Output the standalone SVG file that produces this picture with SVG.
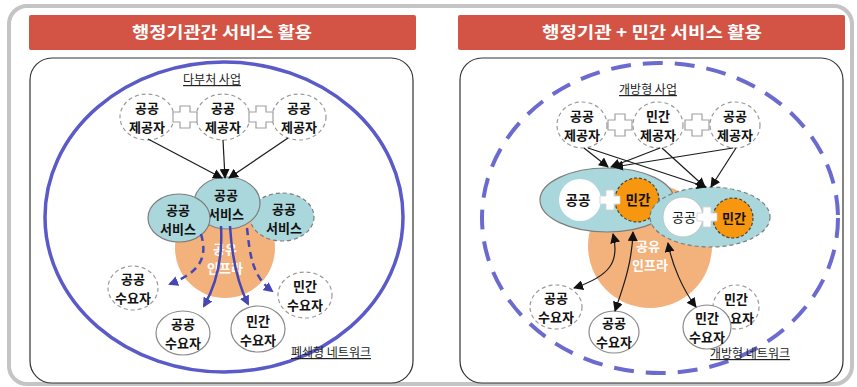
<svg xmlns="http://www.w3.org/2000/svg" width="857" height="387" viewBox="0 0 857 387">
<style>
text{font-family:"Noto Sans CJK KR","Noto Sans",sans-serif;}
.title{fill:#fff;font-size:16px;font-weight:bold;text-anchor:middle;}
.nt{font-size:13px;font-weight:bold;fill:#111;text-anchor:middle;}
.wt{font-size:13px;font-weight:bold;fill:#fff;text-anchor:middle;}
.lbl{font-size:12px;fill:#222;text-anchor:middle;text-decoration:underline;}
.dashc{fill:#fff;stroke:#9a9a9a;stroke-width:1.2;stroke-dasharray:4 3;}
.solc{fill:#fff;stroke:#8a8a8a;stroke-width:1.2;}
.svc{fill:#aad7db;stroke:#7d7d7d;stroke-width:1.2;}
.svcd{fill:#aad7db;stroke:#7d7d7d;stroke-width:1.2;stroke-dasharray:4 3;}
.infra{fill:#f3b27c;}
.plus{fill:#fff;stroke:#a0a0a0;stroke-width:1.2;}
.bk{fill:none;stroke:#1a1a1a;stroke-width:1.2;}
.bl{fill:none;stroke:#4646b4;stroke-width:2.5;}
.bld{fill:none;stroke:#4646b4;stroke-width:2.5;stroke-dasharray:7 5;}
.org{fill:#f7960f;stroke:#444;stroke-width:1.2;stroke-dasharray:3 2;}
</style>
<defs>
<marker id="ab" viewBox="0 0 10 10" refX="9" refY="5" markerWidth="10" markerHeight="10" markerUnits="userSpaceOnUse" orient="auto-start-reverse"><path d="M0,0 L10,5 L0,10 z" fill="#111"/></marker>
<marker id="abl" viewBox="0 0 10 10" refX="8" refY="5" markerWidth="10" markerHeight="10" markerUnits="userSpaceOnUse" orient="auto"><path d="M0,0 L10,5 L0,10 z" fill="#4646b4"/></marker>
<path id="plusShape" d="M-5,-11 H5 V-5 H12 V5 H5 V11 H-5 V5 H-12 V-5 H-5 Z"/>
<path id="plusSmall" d="M-4,-10 H4 V-4 H10 V4 H4 V10 H-4 V4 H-10 V-4 H-4 Z"/>
</defs>

<!-- outer frame -->
<rect x="9" y="6" width="843" height="378" rx="18" fill="#fff" stroke="#c4c4c4" stroke-width="4"/>

<!-- title bars -->
<g id="title-left">
<rect x="29" y="15" width="387" height="35" rx="2" fill="#d35445"/>
<text class="title" x="222" y="38" textLength="180" lengthAdjust="spacingAndGlyphs">행정기관간 서비스 활용</text>
</g>
<g id="title-right">
<rect x="458" y="15" width="387" height="35" rx="2" fill="#d35445"/>
<text class="title" x="652" y="38" textLength="220" lengthAdjust="spacingAndGlyphs">행정기관 + 민간 서비스 활용</text>
</g>

<!-- panels -->
<rect x="30" y="58" width="383" height="325" rx="22" fill="#fff" stroke="#333" stroke-width="1.2"/>
<rect x="460" y="58" width="383" height="325" rx="22" fill="#fff" stroke="#333" stroke-width="1.2"/>

<!-- ========== LEFT PANEL ========== -->
<g id="left-boundary">
<ellipse cx="224" cy="217" rx="179" ry="155" fill="none" stroke="#5a5ac8" stroke-width="3.5"/>
<text class="lbl" x="212" y="84">다부처 사업</text>
<text class="lbl" x="331" y="357">폐쇄형 네트워크</text>
</g>

<g id="l-infra">
<circle class="infra" cx="225" cy="248" r="50"/>
<text class="wt" x="225" y="254">공유<tspan x="225" dy="19">인프라</tspan></text>
</g>

<g id="l-svc-right">
<ellipse class="svcd" cx="282" cy="217" rx="32" ry="24"/>
<text class="nt" x="284" y="214">공공<tspan x="284" dy="19">서비스</tspan></text>
</g>
<g id="l-svc-center">
<ellipse class="svc" cx="227" cy="203" rx="33" ry="26"/>
<text class="nt" x="226" y="200">공공<tspan x="226" dy="19">서비스</tspan></text>
</g>
<g id="l-svc-left">
<ellipse class="svc" cx="179" cy="218" rx="31" ry="24"/>
<text class="nt" x="178" y="215">공공<tspan x="178" dy="19">서비스</tspan></text>
</g>

<g id="l-prov1">
<ellipse class="dashc" cx="147" cy="117" rx="27" ry="23"/>
<text class="nt" x="147" y="113">공공<tspan x="147" dy="19">제공자</tspan></text>
</g>
<g id="l-prov2">
<ellipse class="dashc" cx="223" cy="117" rx="27" ry="23"/>
<text class="nt" x="223" y="113">공공<tspan x="223" dy="19">제공자</tspan></text>
</g>
<g id="l-prov3">
<ellipse class="dashc" cx="299" cy="117" rx="27" ry="23"/>
<text class="nt" x="299" y="113">공공<tspan x="299" dy="19">제공자</tspan></text>
</g>
<g id="l-plus">
<use href="#plusShape" class="plus" transform="translate(185,117)"/>
<use href="#plusShape" class="plus" transform="translate(261,117)"/>
</g>

<g id="l-dem1">
<ellipse class="dashc" cx="133" cy="288" rx="25" ry="22"/>
<text class="nt" x="133" y="284">공공<tspan x="133" dy="19">수요자</tspan></text>
</g>
<g id="l-dem2">
<ellipse class="dashc" cx="305" cy="295" rx="27" ry="23"/>
<text class="nt" x="305" y="291">민간<tspan x="305" dy="19">수요자</tspan></text>
</g>
<g id="l-dem3">
<ellipse class="solc" cx="183" cy="333" rx="27" ry="22"/>
<text class="nt" x="183" y="329">공공<tspan x="183" dy="19">수요자</tspan></text>
</g>
<g id="l-dem4">
<ellipse class="solc" cx="258" cy="329" rx="27" ry="23"/>
<text class="nt" x="258" y="326">민간<tspan x="258" dy="19">수요자</tspan></text>
</g>

<g id="l-connectors">
<path class="bk" d="M148,139 L222,178" marker-end="url(#ab)"/>
<path class="bk" d="M223,140 L225,178" marker-end="url(#ab)"/>
<path class="bk" d="M288,138 L229,178" marker-end="url(#ab)"/>
<path class="bld" d="M201,234 C208,258 200,272 170,284" marker-end="url(#abl)"/>
<path class="bl" d="M221,226 C223,260 216,285 204,306" marker-end="url(#abl)"/>
<path class="bl" d="M230,226 C232,260 238,284 248,304" marker-end="url(#abl)"/>
<path class="bld" d="M247,228 C250,255 252,276 272,291" marker-end="url(#abl)"/>
</g>

<!-- ========== RIGHT PANEL ========== -->
<g id="right-boundary">
<ellipse cx="660" cy="218" rx="178" ry="155" fill="none" stroke="#6b6bcf" stroke-width="4" stroke-dasharray="20 12"/>
<text class="lbl" x="648" y="94">개방형 사업</text>
<text class="lbl" x="750" y="358">개방형 네트워크</text>
</g>

<g id="r-infra">
<circle class="infra" cx="650" cy="246" r="62"/>
<text class="wt" x="648" y="251">공유<tspan x="650" dy="19">인프라</tspan></text>
</g>

<g id="r-svc-left">
<ellipse class="svc" cx="607" cy="200" rx="67" ry="32"/>
<circle cx="580" cy="200" r="21" fill="#fff"/>
<circle class="org" cx="637" cy="200" r="22"/>
<use href="#plusSmall" fill="#fff" stroke="#d0d0d0" stroke-width="0.8" transform="translate(610,200)"/>
<text class="nt" x="578" y="205" style="font-size:13.5px">공공</text>
<text class="nt" x="638" y="205" style="font-size:13.5px">민간</text>
</g>
<g id="r-svc-right">
<ellipse class="svcd" cx="710" cy="217" rx="60" ry="30"/>
<circle cx="683" cy="217" r="20" fill="#fff" stroke="#bbb" stroke-width="0.8"/>
<circle class="org" cx="733" cy="218" r="20"/>
<use href="#plusSmall" fill="#fff" stroke="#d0d0d0" stroke-width="0.8" transform="translate(707,217)"/>
<text class="nt" x="684" y="222" style="font-weight:normal">공공</text>
<text class="nt" x="734" y="223">민간</text>
</g>

<g id="r-prov1">
<ellipse class="dashc" cx="582" cy="125" rx="25" ry="23"/>
<text class="nt" x="582" y="121">공공<tspan x="582" dy="19">제공자</tspan></text>
</g>
<g id="r-prov2">
<ellipse class="dashc" cx="658" cy="125" rx="25" ry="23"/>
<text class="nt" x="658" y="121">민간<tspan x="658" dy="19">제공자</tspan></text>
</g>
<g id="r-prov3">
<ellipse class="dashc" cx="735" cy="125" rx="25" ry="23"/>
<text class="nt" x="735" y="121">공공<tspan x="735" dy="19">제공자</tspan></text>
</g>
<g id="r-plus">
<use href="#plusShape" class="plus" transform="translate(620,125)"/>
<use href="#plusShape" class="plus" transform="translate(697,125)"/>
</g>

<g id="r-dem1">
<ellipse class="dashc" cx="556" cy="307" rx="26" ry="22"/>
<text class="nt" x="556" y="303">공공<tspan x="556" dy="19">수요자</tspan></text>
</g>
<g id="r-dem2">
<ellipse class="solc" cx="614" cy="332" rx="25" ry="21"/>
<text class="nt" x="614" y="328">공공<tspan x="614" dy="19">수요자</tspan></text>
</g>
<g id="r-dem3">
<ellipse class="dashc" cx="736" cy="307" rx="23" ry="22"/>
<text class="nt" x="736" y="304">민간<tspan x="736" dy="19">수요자</tspan></text>
</g>
<g id="r-dem4">
<ellipse class="solc" cx="707" cy="327" rx="24" ry="22"/>
<text class="nt" x="707" y="323">민간<tspan x="707" dy="19">수요자</tspan></text>
</g>

<g id="r-connectors">
<path class="bk" d="M584,148 L608,167" marker-end="url(#ab)"/>
<path class="bk" d="M588,148 L706,187" marker-end="url(#ab)"/>
<path class="bk" d="M660,148 L611,167" marker-end="url(#ab)"/>
<path class="bk" d="M662,148 L705,187" marker-end="url(#ab)"/>
<path class="bk" d="M733,148 L614,167" marker-end="url(#ab)"/>
<path class="bk" d="M736,148 L711,187" marker-end="url(#ab)"/>
<path class="bk" d="M613,234 C620,262 610,276 574,288" marker-start="url(#ab)" marker-end="url(#ab)"/>
<path class="bk" d="M633,232 C632,265 622,290 615,311" marker-start="url(#ab)" marker-end="url(#ab)"/>
<path class="bk" d="M668,243 C672,265 683,290 696,307" marker-start="url(#ab)" marker-end="url(#ab)"/>
</g>
</svg>
